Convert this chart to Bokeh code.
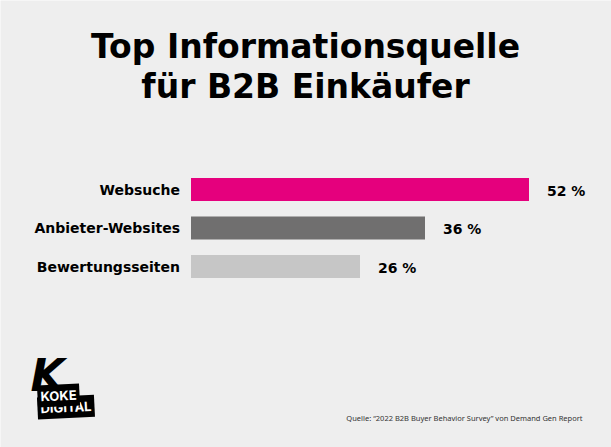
from bokeh.plotting import figure
from bokeh.models import Range1d, Label, ColumnDataSource
from bokeh.core.properties import value
from bokeh.embed import file_html
from bokeh.resources import INLINE

# ---- data ----
categories = ["Websuche", "Anbieter-Websites", "Bewertungsseiten"]
values = [52, 36, 26]
value_labels = ["52 %", "36 %", "26 %"]
colors = ["#e5007d", "#706f6f", "#c6c6c6"]
title_lines = ["Top Informationsquelle", "für B2B Einkäufer"]
source_note = "Quelle: \u201c2022 B2B Buyer Behavior Survey\u201d von Demand Gen Report"

BG = "#eeeeee"
FONT = "DejaVu Sans"
W, H = 611, 447
PX_PER_PCT = 6.5        # horizontal scale
ROW = 38.5              # vertical spacing of bars in px
LEFT = 190.5            # x of 0 %
TOP0 = 189              # y (from top) of first bar centre

pos = list(range(len(categories)))

p = figure(width=W, height=H, output_backend="svg", toolbar_location=None,
           x_range=Range1d(-LEFT / PX_PER_PCT, (W - LEFT) / PX_PER_PCT),
           y_range=Range1d((H - TOP0) / ROW, -TOP0 / ROW),
           min_border=0, x_axis_type=None, y_axis_type=None)
p.background_fill_color = BG
p.border_fill_color = BG
p.outline_line_color = None
p.grid.visible = False

src = ColumnDataSource(dict(cat=categories, pos=pos, val=values, lab=value_labels, col=colors))
p.hbar(y="pos", right="val", left=0, height=0.6, fill_color="col", line_color=None, source=src)
p.text(x="val", y="pos", text="lab", source=src, x_offset=18, y_offset=1,
       text_baseline="middle", text_align="left", text_font=value(FONT),
       text_font_style="bold", text_font_size="14px", text_color="#000000")
p.text(x=0, y="pos", text="cat", source=src, x_offset=-11, y_offset=0,
       text_baseline="middle", text_align="right", text_font=value(FONT),
       text_font_style="bold", text_font_size="14px", text_color="#000000")

# title (screen px relative to the frame's bottom-left)
for i, line in enumerate(title_lines):
    p.add_layout(Label(x=305, y=401 - 40 * i, x_units="screen", y_units="screen",
                       text=line, text_align="center", text_baseline="alphabetic",
                       text_font=FONT, text_font_style="bold", text_font_size="33px",
                       text_color="#000000"))

# source note
p.add_layout(Label(x=582, y=30, x_units="screen", y_units="screen", text=source_note,
                   text_align="right", text_baseline="middle", text_font="Noto Sans",
                   text_font_size="7.5px", text_color="#333333"))

# logo: two black blocks with white text, then a big K on top
p.add_layout(Label(x=37, y=39, x_units="screen", y_units="screen", text="DIGITAL",
                   text_align="left", text_baseline="alphabetic", text_font="Inter",
                   text_font_style="bold", text_font_size="13px", text_color="#ffffff",
                   background_fill_color="#000000", angle=0.05, padding=3))
p.add_layout(Label(x=37, y=51, x_units="screen", y_units="screen", text="KOKE",
                   text_align="left", text_baseline="alphabetic", text_font="Inter",
                   text_font_style="bold", text_font_size="13px", text_color="#ffffff",
                   background_fill_color="#000000", angle=0.05, padding=3))
p.add_layout(Label(x=30, y=72, x_units="screen", y_units="screen", text="K",
                   text_align="left", text_baseline="alphabetic", text_font=FONT,
                   text_font_style="bold italic", text_font_size="44px", text_color="#000000"))

html = file_html(p, INLINE)
html = html.replace("<body>", '<body style="margin:0;overflow:hidden;background:#eeeeee">', 1)
open("out.html", "w").write(html)
